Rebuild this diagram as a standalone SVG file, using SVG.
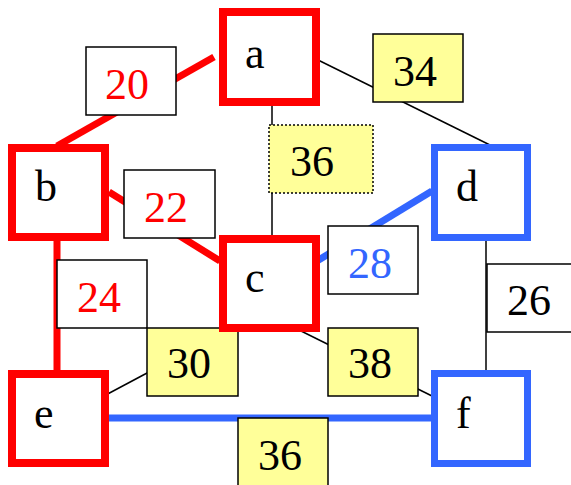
<svg xmlns="http://www.w3.org/2000/svg" width="571" height="485" viewBox="0 0 571 485">
<style>
.red{fill:#fff;stroke:#ff0000;stroke-width:8}
.blue{fill:#fff;stroke:#3366ff;stroke-width:7}
.lbl{font-family:"Liberation Serif","Times New Roman",serif;font-size:44px;fill:#000}
.box{fill:#fff;stroke:#000;stroke-width:1.5}
.ybox{fill:#ffff99;stroke:#000;stroke-width:1.5}
.dot{fill:#ffff99;stroke:#000;stroke-width:1.5;stroke-dasharray:2 2}
.rt{fill:#ff0000}
.bt{fill:#3366ff}
.thin{stroke:#000;stroke-width:1.5;fill:none}
.rthick{stroke:#ff0000;stroke-width:7;fill:none}
.bthick{stroke:#3366ff;stroke-width:7;fill:none}
</style>
<rect width="571" height="485" fill="#fff"/>
<g id="connectors">
<line class="rthick" x1="214" y1="57" x2="57" y2="146"/>
<line class="rthick" x1="109" y1="192" x2="220" y2="261"/>
<line class="rthick" x1="57" y1="240" x2="57" y2="372"/>
<line class="thin" x1="272" y1="102" x2="272" y2="238"/>
<line class="thin" x1="314" y1="58" x2="494" y2="147"/>
<line class="bthick" x1="432" y1="191" x2="317" y2="261"/>
<line class="thin" x1="486" y1="237" x2="486" y2="372"/>
<line class="thin" x1="102" y1="397" x2="224" y2="332"/>
<line class="thin" x1="295" y1="328" x2="432" y2="396"/>
<line class="bthick" x1="102" y1="418" x2="440" y2="418"/>
</g>
<g id="edge-labels">
<g id="w-ab"><rect class="box" x="86" y="47" width="90" height="68"/><text class="lbl rt" x="105" y="99">20</text></g>
<g id="w-bc"><rect class="box" x="124" y="170" width="91" height="68"/><text class="lbl rt" x="144" y="222">22</text></g>
<g id="w-ac"><rect class="dot" x="269" y="125" width="104" height="68"/><text class="lbl" x="290" y="176">36</text></g>
<g id="w-ad"><rect class="ybox" x="373" y="34" width="90" height="68"/><text class="lbl" x="393" y="86">34</text></g>
<g id="w-cd"><rect class="box" x="328" y="226" width="90" height="68"/><text class="lbl bt" x="348" y="278">28</text></g>
<g id="w-be"><rect class="box" x="57" y="260" width="90" height="68"/><text class="lbl rt" x="77" y="312">24</text></g>
<g id="w-ce"><rect class="ybox" x="147" y="328" width="91" height="68"/><text class="lbl" x="167" y="378">30</text></g>
<g id="w-df"><rect class="box" x="487" y="264" width="100" height="68"/><text class="lbl" x="507" y="315">26</text></g>
<g id="w-cf"><rect class="ybox" x="328" y="328" width="90" height="68"/><text class="lbl" x="348" y="378">38</text></g>
<g id="w-ef"><rect class="ybox" x="238" y="418" width="90" height="80"/><text class="lbl" x="258" y="470">36</text></g>
</g>
<g id="node-a"><rect class="red" x="223" y="12" width="93" height="90"/><text class="lbl" x="245" y="68">a</text></g>
<g id="node-b"><rect class="red" x="12" y="148" width="93" height="89"/><text class="lbl" x="35" y="201">b</text></g>
<g id="node-c"><rect class="red" x="223" y="239" width="93" height="89"/><text class="lbl" x="245" y="292">c</text></g>
<g id="node-d"><rect class="blue" x="434.5" y="147.5" width="93" height="90"/><text class="lbl" x="456" y="201">d</text></g>
<g id="node-e"><rect class="red" x="12" y="374" width="93" height="89"/><text class="lbl" x="34" y="428">e</text></g>
<g id="node-f"><rect class="blue" x="434.5" y="373.5" width="93" height="90"/><text class="lbl" x="456" y="428">f</text></g>
</svg>
